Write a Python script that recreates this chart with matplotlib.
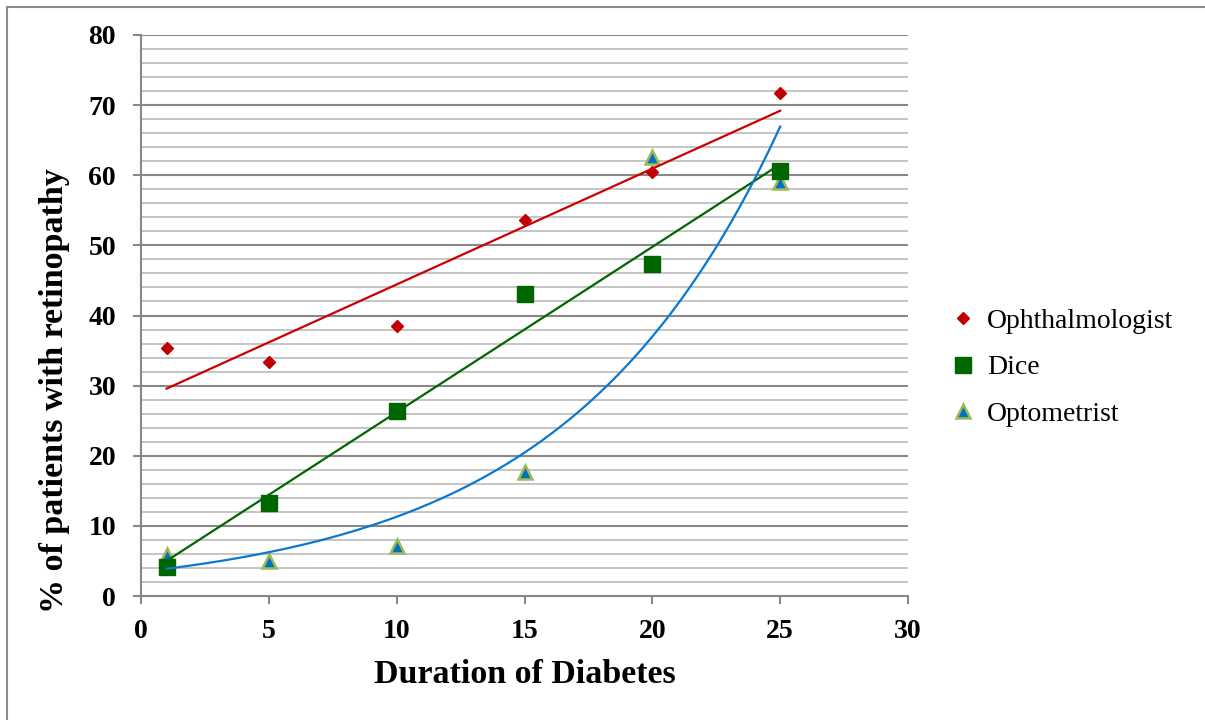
import numpy as np
import matplotlib
matplotlib.use("Agg")
from matplotlib import pyplot as plt
from matplotlib.lines import Line2D

# duration of diabetes (years) and % of patients with retinopathy
years = [1, 5, 10, 15, 20, 25]
ophthalmologist = [35.3, 33.4, 38.5, 53.6, 60.5, 71.7]
dice = [4.2, 13.3, 26.4, 43.1, 47.4, 60.6]
optometrist = [5.9, 5.0, 7.2, 17.7, 62.6, 59.0]

x_ticks = [0, 5, 10, 15, 20, 25, 30]
y_ticks = [0, 10, 20, 30, 40, 50, 60, 70, 80]

plt.rcParams["font.family"] = ["Liberation Serif", "DejaVu Serif"]

fig = plt.figure(figsize=(12.05, 7.2), dpi=100)
ax = fig.add_axes([141 / 1205, 124 / 720, 767 / 1205, 561 / 720])

# outer chart frame (top and left edges only are visible)
fig.add_artist(Line2D([7 / 1205, 1.0], [1 - 6.5 / 720, 1 - 6.5 / 720],
                      transform=fig.transFigure, color="#8c8c8c", lw=1.5))
fig.add_artist(Line2D([7 / 1205, 7 / 1205], [0.0, 1 - 6.5 / 720],
                      transform=fig.transFigure, color="#8c8c8c", lw=1.5))

ax.set_xlim(0, 30)
ax.set_ylim(0, 80)

# horizontal gridlines: minor every 2, major every 10
for v in np.arange(2, 80, 2):
    if v % 10 == 0:
        continue
    ax.axhline(v, color="#c0c0c0", lw=1.3, zorder=0)
for v in y_ticks[1:]:
    ax.axhline(v, color="#888888", lw=1.5, zorder=0)

x = np.array(years, dtype=float)
xf = np.linspace(1, 25, 200)

# linear trendlines
k, b = np.polyfit(x, ophthalmologist, 1)
ax.plot(xf, k * xf + b, color="#cc0000", lw=1.6, zorder=4)
k, b = np.polyfit(x, dice, 1)
ax.plot(xf, k * xf + b, color="#006600", lw=1.6, zorder=4)
# exponential trendline
k, b = np.polyfit(x, np.log(optometrist), 1)
ax.plot(xf, np.exp(b) * np.exp(k * xf), color="#0a78d0", lw=1.6, zorder=4)

ax.plot(years, ophthalmologist, ls="none", marker="D", ms=6.5,
        color="#c00000", mec="#c00000", label="Ophthalmologist", zorder=3)
ax.plot(years, optometrist, ls="none", marker="^", ms=10.5,
        color="#0070c0", mec="#9bbb59", mew=1.8, label="Optometrist", zorder=3)
ax.plot(years, dice, ls="none", marker="s", ms=11,
        color="#006600", mec="#006600", label="Dice", zorder=3.5)

for s in ["top", "right"]:
    ax.spines[s].set_visible(False)
for s in ["left", "bottom"]:
    ax.spines[s].set_color("#888888")
    ax.spines[s].set_linewidth(1.5)

ax.set_xticks(x_ticks)
ax.set_yticks(y_ticks)
ax.tick_params(axis="both", direction="out", length=6, width=1.5,
               color="#888888", labelsize=20)
ax.tick_params(axis="x", pad=10.5)
ax.tick_params(axis="y", pad=12)
for lab in ax.get_xticklabels() + ax.get_yticklabels():
    lab.set_fontweight("bold")

ax.set_xlabel("Duration of Diabetes", fontsize=24.5, fontweight="bold", labelpad=11)
ax.set_ylabel("% of patients with retinopathy", fontsize=24.5, fontweight="bold")
ax.yaxis.set_label_coords(-0.0926, 0.367)

handles, labels = ax.get_legend_handles_labels()
order = [labels.index(n) for n in ["Ophthalmologist", "Dice", "Optometrist"]]
ax.legend([handles[i] for i in order], [labels[i] for i in order],
          loc="center left", bbox_to_anchor=(1.027, 0.407), frameon=False,
          fontsize=20, handlelength=0.7, handletextpad=0.5, labelspacing=0.75)

fig.savefig("out.png", dpi=100)
